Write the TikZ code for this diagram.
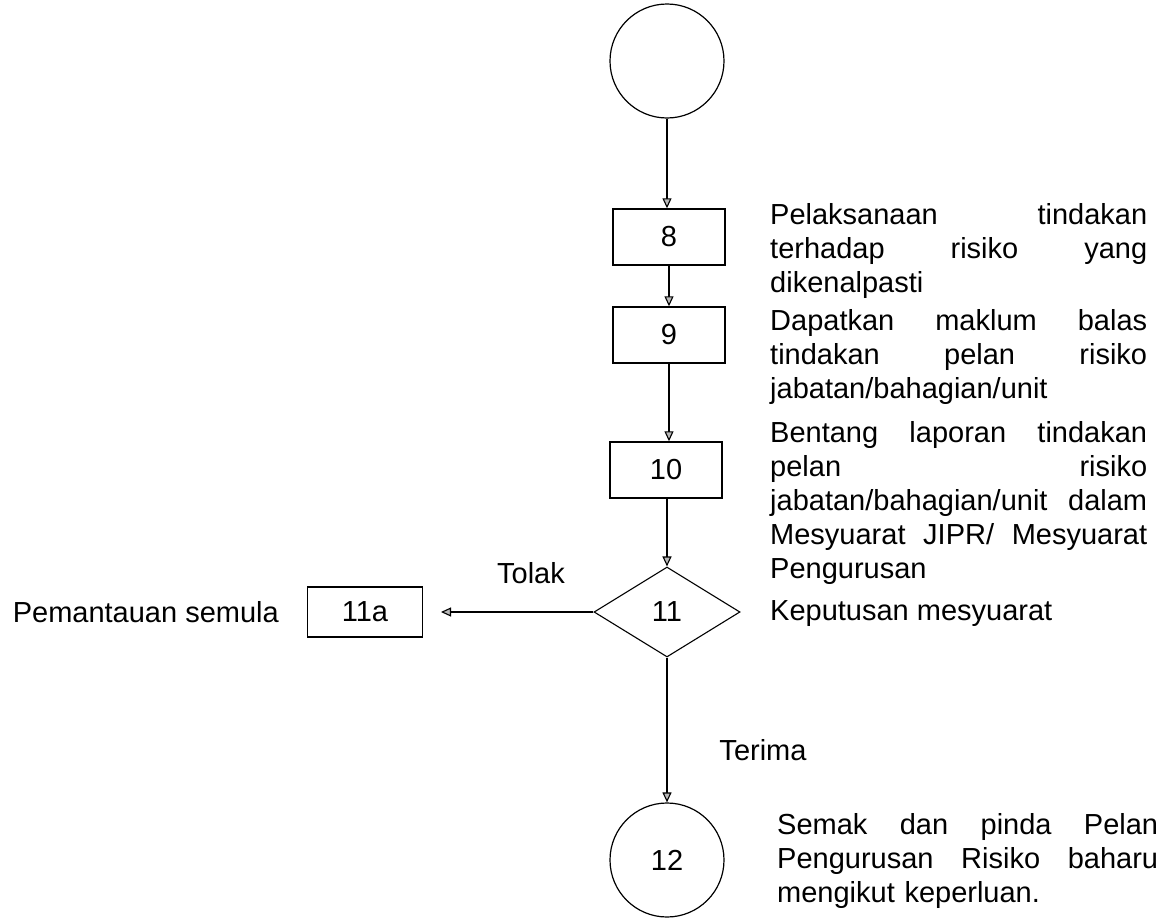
\documentclass[tikz,border=0pt]{standalone}
\usepackage{fontspec}
\setmainfont{Liberation Sans}
\usetikzlibrary{shapes.geometric,arrows.meta}
\begin{document}
\begin{tikzpicture}[x=1pt,y=-1pt,
  every node/.style={font=\fontsize{29}{34}\selectfont, text=black},
  stepbox/.style={draw, line width=1.4pt, minimum width=112pt, minimum height=56pt, inner sep=0pt},
  ring/.style={draw, circle, line width=1.2pt, minimum size=114pt, inner sep=0pt},
  choice/.style={draw, diamond, line width=1.1pt, minimum width=146pt, minimum height=90pt, inner sep=0pt},
  note/.style={anchor=north west, inner sep=0pt, text width=377pt, align=left},
  flow/.style={line width=1.1pt, -{Triangle[length=10pt,width=9pt,fill=gray!55]}}]
\useasboundingbox (0,0) rectangle (1171,918);
% shapes
\node[ring] (c0) at (667,61) {};
\node[stepbox] (b8) at (669,237) {8};
\node[stepbox] (b9) at (669,335) {9};
\node[stepbox] (b10) at (666,470) {10};
\node[choice] (d11) at (667,612) {11};
\node[stepbox, minimum width=115pt, minimum height=50pt] (b11a) at (365,612) {11a};
\node[ring] (c12) at (667,860) {12};
\coordinate (e11a) at (441,612);
% connectors
\draw[flow] (c0.south) -- (c0.south |- b8.north);
\draw[flow] (b8.south) -- (b9.north);
\draw[flow] (b9.south) -- (b9.south |- b10.north);
\draw[flow] (d11.north |- b10.south) -- (d11.north);
\draw[flow] (d11.west) -- (e11a);
\draw[flow] (d11.south) -- (c12.north);
% texts
\node[note] (t8) at (770,203) {Pelaksanaan\hfill tindakan\\ terhadap\hfill risiko\hfill yang\\ dikenalpasti};
\node[note] (t9) at (770,309) {Dapatkan\hfill maklum\hfill balas\\ tindakan\hfill pelan\hfill risiko\\ jabatan/bahagian/unit};
\node[note] (t10) at (770,421) {Bentang\hfill laporan\hfill tindakan\\ pelan\hfill risiko\\ jabatan/bahagian/unit\hfill dalam\\ Mesyuarat\hfill JIPR/\hfill Mesyuarat\\ Pengurusan};
\node[anchor=base west, inner sep=0pt] (t11) at (770,620) {Keputusan mesyuarat};
\node[note, text width=381pt] (t12) at (777,813) {Semak\hfill dan\hfill pinda\hfill Pelan\\ Pengurusan\hfill Risiko\hfill baharu\\ mengikut keperluan.};
\node[inner sep=0pt] (tolak) at (531,573) {Tolak};
\node[inner sep=0pt] (terima) at (763,750) {Terima};
\node[anchor=base east, inner sep=0pt] (pem) at (279,622) {Pemantauan semula};
\end{tikzpicture}
\end{document}
